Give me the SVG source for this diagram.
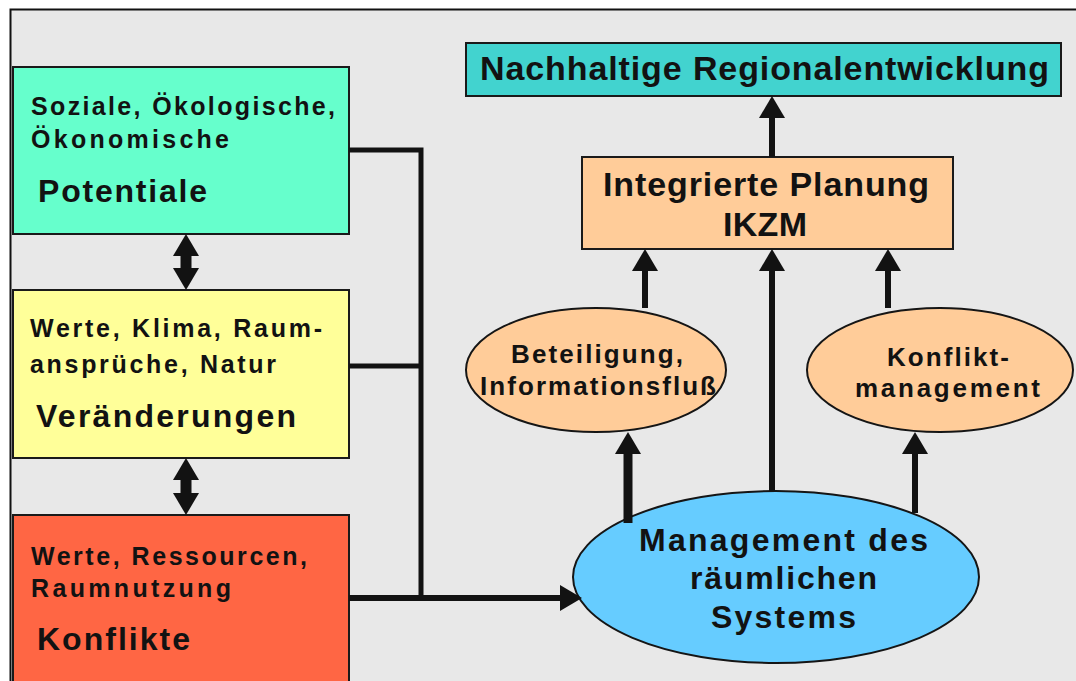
<svg xmlns="http://www.w3.org/2000/svg" width="1076" height="681" viewBox="0 0 1076 681">
  <style>
    .box { stroke: #1a1a1a; stroke-width: 2; }
    .oval { stroke: #151515; stroke-width: 2; }
    .wire { fill: none; stroke: #121212; stroke-linecap: butt; }
    text { font-family: "Liberation Sans", Arial, sans-serif; font-weight: bold; fill: #121212; }
    .sm { font-size: 25px; }
    .lg { font-size: 32px; }
    .el { font-size: 26px; }
    .hd { font-size: 34px; }
  </style>
  <defs>
    <marker id="head" markerUnits="userSpaceOnUse" viewBox="0 0 22 26" markerWidth="22" markerHeight="26" refX="0" refY="13" orient="auto-start-reverse">
      <path d="M0,0 L22,13 L0,26 Z" fill="#121212"/>
    </marker>
  </defs>

  <!-- canvas and framed panel -->
  <rect x="0" y="0" width="1076" height="681" fill="#ffffff"/>
  <rect x="10.5" y="9.5" width="1080" height="690" fill="#e8e8e8" stroke="#111" stroke-width="2"/>

  <!-- left column: drivers -->
  <g id="potentiale">
    <rect class="box" x="13" y="67" width="336" height="167" fill="#66ffcc"/>
    <text class="sm" x="31" y="115" textLength="304">Soziale, Ökologische,</text>
    <text class="sm" x="31" y="148" textLength="198">Ökonomische</text>
    <text class="lg" x="38" y="202" textLength="169">Potentiale</text>
  </g>
  <g id="veraenderungen">
    <rect class="box" x="13" y="290" width="336" height="168" fill="#ffff99"/>
    <text class="sm" x="30" y="337" textLength="292">Werte, Klima, Raum-</text>
    <text class="sm" x="30" y="373" textLength="246">ansprüche, Natur</text>
    <text class="lg" x="36" y="427" textLength="260">Veränderungen</text>
  </g>
  <g id="konflikte">
    <rect class="box" x="13" y="515" width="336" height="200" fill="#ff6644"/>
    <text class="sm" x="31" y="565" textLength="276">Werte, Ressourcen,</text>
    <text class="sm" x="31" y="597" textLength="200">Raumnutzung</text>
    <text class="lg" x="37" y="650" textLength="153">Konflikte</text>
  </g>

  <!-- right side: goals and instruments -->
  <g id="regionalentwicklung">
    <rect class="box" x="466" y="43" width="595" height="53" fill="#42d3cf"/>
    <text class="hd" x="480" y="80" font-size="35" textLength="569">Nachhaltige Regionalentwicklung</text>
  </g>
  <g id="planung">
    <rect class="box" x="582" y="157" width="371" height="92" fill="#ffcc99"/>
    <text class="hd" x="603" y="196" textLength="326">Integrierte Planung</text>
    <text class="hd" x="723" y="236" textLength="84">IKZM</text>
  </g>
  <g id="beteiligung">
    <ellipse class="oval" cx="596" cy="370" rx="130" ry="62" fill="#ffcc99"/>
    <text class="el" x="511" y="363" textLength="172">Beteiligung,</text>
    <text class="el" x="480" y="395" textLength="236">Informationsfluß</text>
  </g>
  <g id="konfliktmanagement">
    <ellipse class="oval" cx="940" cy="370" rx="133" ry="62" fill="#ffcc99"/>
    <text class="el" x="887" y="366" textLength="122">Konflikt-</text>
    <text class="el" x="855" y="397" textLength="185">management</text>
  </g>
  <g id="management">
    <ellipse class="oval" cx="776" cy="577" rx="203" ry="86" fill="#66ccff"/>
    <text class="lg" x="639" y="551" textLength="289">Management des</text>
    <text class="lg" x="690" y="589" textLength="187">räumlichen</text>
    <text class="lg" x="711" y="628" textLength="145">Systems</text>
  </g>

  <!-- connectors -->
  <g id="connectors">
    <path class="wire" stroke-width="5" d="M349,150 H421 V600"/>
    <path class="wire" stroke-width="5" d="M349,366 H421"/>
    <path class="wire" stroke-width="6" d="M349,598 H560" marker-end="url(#head)"/>

    <path class="wire" stroke-width="11" d="M186,256 V268" marker-start="url(#head)" marker-end="url(#head)"/>
    <path class="wire" stroke-width="11" d="M186,480 V493" marker-start="url(#head)" marker-end="url(#head)"/>

    <path class="wire" stroke-width="6" d="M772,157 V118" marker-end="url(#head)"/>
    <path class="wire" stroke-width="6" d="M645,308 V271" marker-end="url(#head)"/>
    <path class="wire" stroke-width="6" d="M772,491 V271" marker-end="url(#head)"/>
    <path class="wire" stroke-width="6" d="M888,308 V271" marker-end="url(#head)"/>
    <path class="wire" stroke-width="9" d="M628,523 V454" marker-end="url(#head)"/>
    <path class="wire" stroke-width="6" d="M915,513 V454" marker-end="url(#head)"/>
  </g>
</svg>
